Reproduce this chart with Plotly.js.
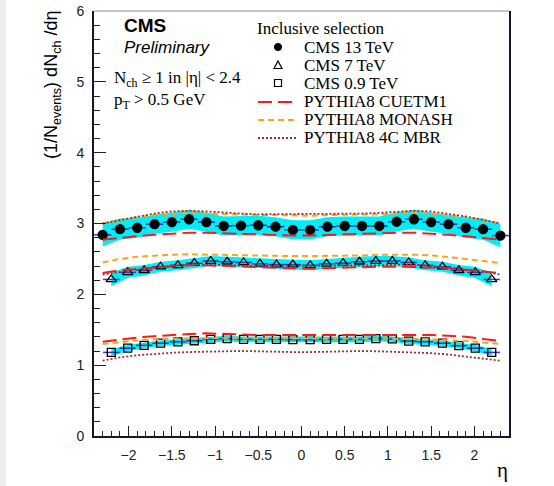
<!DOCTYPE html>
<html>
<head>
<meta charset="utf-8">
<script src="https://cdn.plot.ly/plotly-3.0.1.min.js"></script>
<style>
  html, body { margin: 0; padding: 0; }
  body { background: linear-gradient(to right, #eeeeee 0 6px, #ffffff 6px); }
  #chart { width: 554px; height: 486px; }
</style>
</head>
<body>
<div id="chart"></div>
<script>
// Pseudorapidity bin centres (13 TeV bins and model curves)
const eta13 = [-2.3,-2.1,-1.9,-1.7,-1.5,-1.3,-1.1,-0.9,-0.7,-0.5,-0.3,-0.1,
               0.1,0.3,0.5,0.7,0.9,1.1,1.3,1.5,1.7,1.9,2.1,2.3];
// Bin centres of the 7 TeV and 0.9 TeV measurements
const etaLow = [-2.2,-2.01,-1.82,-1.63,-1.43,-1.24,-1.05,-0.86,-0.67,-0.48,-0.29,-0.1,
                0.1,0.29,0.48,0.67,0.86,1.05,1.24,1.43,1.63,1.82,2.01,2.2];

// CMS measurements of dN_ch/deta and their systematic uncertainties
const dn13  = [2.84,2.92,2.94,2.99,3.02,3.06,3.02,2.965,2.97,2.975,2.955,2.91,
               2.91,2.955,2.965,2.965,2.965,3.025,3.06,3.02,2.99,2.94,2.92,2.83];
const sys13 = [0.165,0.15,0.14,0.135,0.135,0.135,0.135,0.135,0.135,0.135,0.135,0.135,
               0.135,0.135,0.135,0.135,0.135,0.135,0.135,0.135,0.135,0.14,0.15,0.165];
const dn7   = [2.21,2.31,2.34,2.39,2.41,2.44,2.47,2.46,2.45,2.43,2.42,2.42,
               2.41,2.43,2.44,2.46,2.47,2.47,2.45,2.41,2.39,2.34,2.31,2.21];
const sys7  = [0.095,0.08,0.075,0.07,0.07,0.07,0.07,0.07,0.07,0.07,0.07,0.07,
               0.07,0.07,0.07,0.07,0.07,0.07,0.07,0.07,0.07,0.075,0.08,0.095];
const dn09  = [1.18,1.24,1.28,1.31,1.33,1.345,1.365,1.375,1.365,1.365,1.365,1.36,
               1.36,1.365,1.365,1.365,1.375,1.37,1.34,1.33,1.31,1.275,1.24,1.18];
const sys09 = [0.05,0.045,0.04,0.04,0.04,0.04,0.04,0.04,0.04,0.04,0.04,0.04,
               0.04,0.04,0.04,0.04,0.04,0.04,0.04,0.04,0.04,0.04,0.045,0.05];

// PYTHIA8 predictions, evaluated at eta13
const cuetm1_13 = [2.77,2.80,2.82,2.84,2.86,2.87,2.87,2.86,2.86,2.85,2.84,2.83,
                   2.83,2.84,2.85,2.86,2.86,2.87,2.87,2.86,2.84,2.82,2.80,2.77];
const monash13  = [3.00,3.05,3.09,3.12,3.14,3.15,3.14,3.13,3.12,3.12,3.12,3.11,
                   3.11,3.12,3.12,3.12,3.13,3.14,3.15,3.14,3.12,3.09,3.05,3.00];
const mbr13     = [3.00,3.05,3.10,3.14,3.17,3.18,3.17,3.15,3.14,3.13,3.13,3.13,
                   3.13,3.13,3.13,3.14,3.15,3.17,3.18,3.17,3.14,3.10,3.05,3.00];
const cuetm1_7  = [2.30,2.34,2.36,2.38,2.40,2.41,2.41,2.40,2.39,2.38,2.37,2.36,
                   2.36,2.37,2.38,2.38,2.39,2.39,2.39,2.38,2.37,2.35,2.33,2.30];
const monash7   = [2.45,2.50,2.53,2.55,2.56,2.565,2.56,2.55,2.545,2.545,2.54,2.54,
                   2.54,2.54,2.545,2.55,2.56,2.565,2.56,2.55,2.53,2.50,2.47,2.44];
const mbr7      = [2.28,2.32,2.35,2.38,2.40,2.42,2.42,2.41,2.41,2.40,2.40,2.40,
                   2.40,2.40,2.40,2.41,2.41,2.42,2.42,2.40,2.38,2.35,2.32,2.28];
const cuetm1_09 = [1.33,1.365,1.39,1.41,1.43,1.44,1.45,1.44,1.43,1.425,1.425,1.425,
                   1.425,1.425,1.43,1.43,1.43,1.435,1.435,1.425,1.415,1.40,1.37,1.34];
const monash09  = [1.30,1.33,1.35,1.365,1.375,1.38,1.38,1.38,1.375,1.375,1.375,1.375,
                   1.375,1.375,1.375,1.375,1.375,1.375,1.37,1.365,1.355,1.34,1.32,1.30];
const mbr09     = [1.063,1.11,1.14,1.16,1.175,1.185,1.19,1.20,1.20,1.195,1.185,1.185,
                   1.185,1.19,1.20,1.20,1.195,1.19,1.18,1.17,1.15,1.12,1.10,1.063];

// Legend labels
const legendTitle = 'Inclusive selection';
const dataLabels  = ['CMS 13 TeV', 'CMS 7 TeV', 'CMS 0.9 TeV'];
const modelLabels = ['PYTHIA8 CUETM1', 'PYTHIA8 MONASH', 'PYTHIA8 4C MBR'];

// Styles
const CYAN = '#00eef8';
const BLUE = '#3636ae';
const modelStyles = [
  {color: '#ff1a1a', dash: '14px,6px', width: 2},
  {color: '#ffa31a', dash: '6px,4px', width: 2},
  {color: '#a03030', dash: '2px,2px', width: 1.8}
];

const traces = [];

function band(x, y, e) {
  traces.push({x: x, y: y.map((v, i) => v - e[i]), mode: 'lines',
               line: {width: 0, color: CYAN}, showlegend: false, hoverinfo: 'skip'});
  traces.push({x: x, y: y.map((v, i) => v + e[i]), mode: 'lines', fill: 'tonexty',
               fillcolor: CYAN, line: {width: 0, color: CYAN},
               showlegend: false, hoverinfo: 'skip'});
}
band(eta13, dn13, sys13);
band(etaLow, dn7, sys7);
band(etaLow, dn09, sys09);

function points(x, y, halfw, symbol, size, name) {
  traces.push({
    x: x, y: y, mode: 'markers', name: name, showlegend: false,
    error_x: {type: 'constant', value: halfw, color: BLUE, thickness: 1.5, width: 0},
    marker: {symbol: symbol, size: size, color: '#000',
             line: {color: '#000', width: 1.3}}
  });
}
points(eta13, dn13, 0.1, 'circle', 9, dataLabels[0]);
points(etaLow, dn7, 0.095, 'triangle-up-open', 9, dataLabels[1]);
points(etaLow, dn09, 0.095, 'square-open', 8, dataLabels[2]);

const models = [[cuetm1_13, monash13, mbr13], [cuetm1_7, monash7, mbr7], [cuetm1_09, monash09, mbr09]];
models.forEach(set => set.forEach((ys, k) => {
  traces.push({x: eta13, y: ys, mode: 'lines', name: modelLabels[k], showlegend: false,
               line: Object.assign({}, modelStyles[k])});
}));

// pixel -> paper helpers for the hand-placed text block and legend
const L = 94, T = 11, W = 415, H = 425;
const xp = px => (px - L) / W;
const yp = py => (T + H - py) / H;

const serif = 'Liberation Serif, Times New Roman, serif';
const sans = 'Liberation Sans, Arial, Helvetica, sans-serif';

const annotations = [
  {text: '<b>CMS</b>', x: xp(122), y: yp(25), xanchor: 'left', yanchor: 'middle',
   font: {family: sans, size: 19, color: '#000'}},
  {text: '<i>Preliminary</i>', x: xp(122), y: yp(47), xanchor: 'left', yanchor: 'middle',
   font: {family: sans, size: 17, color: '#000'}},
  {text: 'N<sub>ch</sub> ≥ 1 in |η| &lt; 2.4', x: xp(112), y: yp(79), xanchor: 'left', yanchor: 'middle',
   font: {family: serif, size: 17, color: '#000'}},
  {text: 'p<sub>T</sub> &gt; 0.5 GeV', x: xp(112), y: yp(101), xanchor: 'left', yanchor: 'middle',
   font: {family: serif, size: 17, color: '#000'}},
  {text: legendTitle, x: xp(255), y: yp(28), xanchor: 'left', yanchor: 'middle',
   font: {family: serif, size: 17, color: '#000'}},
  {text: '(1/N<sub>events</sub>) dN<sub>ch</sub> /dη', textangle: -90,
   x: xp(52), y: yp(9), xanchor: 'center', yanchor: 'top',
   font: {family: sans, size: 18, color: '#000'}},
  {text: 'η', x: xp(502), y: yp(470), xanchor: 'center', yanchor: 'middle',
   font: {family: serif, size: 21, color: '#000'}}
];
const rowY = [47, 65, 83, 101, 119, 137];
dataLabels.concat(modelLabels).forEach((t, i) => {
  annotations.push({text: t, x: xp(302), y: yp(rowY[i]), xanchor: 'left', yanchor: 'middle',
                    font: {family: serif, size: 17, color: '#000'}});
});
annotations.forEach(a => { a.xref = 'paper'; a.yref = 'paper'; a.showarrow = false; });

// Legend symbols
const mx = xp(278);
const shapes = [
  {type: 'circle', xref: 'paper', yref: 'paper', xsizemode: 'pixel', ysizemode: 'pixel',
   xanchor: mx, yanchor: yp(rowY[0]), x0: -3.6, x1: 3.6, y0: -3.6, y1: 3.6,
   fillcolor: '#000', line: {color: '#000', width: 1}},
  {type: 'path', xref: 'paper', yref: 'paper', xsizemode: 'pixel', ysizemode: 'pixel',
   xanchor: mx, yanchor: yp(rowY[1]), path: 'M -4 -3.5 L 4 -3.5 L 0 4 Z',
   line: {color: '#000', width: 1.2}},
  {type: 'rect', xref: 'paper', yref: 'paper', xsizemode: 'pixel', ysizemode: 'pixel',
   xanchor: mx, yanchor: yp(rowY[2]), x0: -3.5, x1: 3.5, y0: -3.5, y1: 3.5,
   line: {color: '#000', width: 1.2}},
  // thin frame line along the top of the plot
  {type: 'line', xref: 'paper', yref: 'paper', x0: 0, x1: 1, y0: 1, y1: 1,
   line: {color: '#8c8c8c', width: 1}}
];
modelStyles.forEach((s, k) => {
  shapes.push({type: 'line', xref: 'paper', yref: 'paper',
               x0: xp(258), x1: xp(296), y0: yp(rowY[3 + k] + 1), y1: yp(rowY[3 + k] + 1),
               line: {color: s.color, dash: s.dash, width: s.width}});
});

const tickFont = {family: sans, size: 14, color: '#222'};
const layout = {
  width: 554, height: 486,
  margin: {l: L, r: 554 - L - W, t: T, b: 486 - T - H},
  paper_bgcolor: 'rgba(0,0,0,0)', plot_bgcolor: '#fff',
  showlegend: false,
  xaxis: {
    range: [-2.4, 2.4], tickvals: [-2, -1.5, -1, -0.5, 0, 0.5, 1, 1.5, 2],
    ticktext: ['−2', '−1.5', '−1', '−0.5', '0', '0.5', '1', '1.5', '2'],
    ticks: 'inside', ticklen: 10, tickwidth: 1, tickcolor: '#222',
    minor: {dtick: 0.1, ticks: 'inside', ticklen: 5, tickcolor: '#222', showgrid: false},
    showline: true, linecolor: '#14142a', linewidth: 2, mirror: false,
    showgrid: false, zeroline: false, tickfont: tickFont, ticklabelstandoff: 5
  },
  yaxis: {
    range: [0, 6], dtick: 1,
    ticks: 'inside', ticklen: 12, tickwidth: 1, tickcolor: '#222',
    minor: {dtick: 0.2, ticks: 'inside', ticklen: 6, tickcolor: '#222', showgrid: false},
    showline: true, linecolor: '#14142a', linewidth: 2, mirror: true,
    showgrid: false, zeroline: false, tickfont: tickFont, ticklabelstandoff: 5
  },
  annotations: annotations,
  shapes: shapes
};

Plotly.newPlot('chart', traces, layout, {staticPlot: true, displayModeBar: false});
</script>
</body>
</html>
